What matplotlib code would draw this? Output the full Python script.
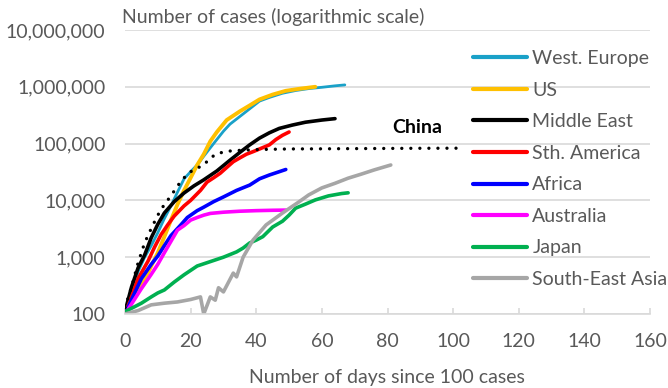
import numpy as np
from matplotlib import pyplot as plt
from matplotlib.ticker import FixedLocator, FuncFormatter

plt.rcParams['font.family'] = ['Lato', 'DejaVu Sans']

# days since 100 cases / cumulative cases
weu_d = [0, 2, 4, 6, 8, 10, 12, 14, 16, 18, 20, 22, 24, 27, 30, 32, 35, 38, 41, 44, 48, 52, 56, 60, 64, 67]
weu_v = [100, 230, 560, 1000, 1600, 2700, 4800, 8000, 14000, 24000, 32000, 42000, 60000, 100000, 165000,
         220000, 300000, 410000, 560000, 650000, 770000, 860000, 930000, 980000, 1040000, 1080000]

us_d = [0, 3, 6, 8, 10, 12, 14, 16, 18, 20, 22, 24, 26, 28, 31, 35, 38, 41, 45, 49, 53, 58]
us_v = [100, 200, 400, 700, 1200, 2300, 4500, 8500, 15000, 25000, 42000, 65000, 110000, 160000, 260000,
        370000, 470000, 600000, 730000, 850000, 920000, 1000000]

me_d = [0, 2, 4, 6, 8, 10, 12, 15, 18, 21, 24, 28, 32, 35, 38, 41, 44, 47, 51, 55, 60, 64]
me_v = [110, 300, 650, 1100, 2200, 3800, 6000, 9500, 13500, 18000, 23000, 33000, 51000, 70000, 95000,
        125000, 155000, 185000, 212000, 238000, 260000, 275000]

sa_d = [0, 2, 4, 7, 9, 11, 13, 15, 18, 20, 23, 25, 27, 29, 31, 33, 35, 37, 39, 42, 44, 46, 48, 50]
sa_v = [100, 200, 420, 850, 1500, 2500, 3700, 5300, 8000, 10000, 15000, 21000, 25000, 30000, 38000,
        48000, 56000, 65000, 72000, 85000, 95000, 118000, 140000, 160000]

af_d = [0, 2, 5, 8, 10, 12, 14, 17, 19, 22, 24, 27, 30, 34, 38, 41, 44, 47, 49]
af_v = [100, 180, 420, 750, 1050, 1600, 2400, 3700, 5000, 6600, 7600, 9500, 11500, 15000, 18600,
        24000, 28000, 32000, 35000]

au_d = [0, 2, 5, 8, 10, 12, 14, 16, 18, 20, 22, 24, 26, 30, 35, 40, 45, 49]
au_v = [100, 150, 280, 500, 750, 1200, 1900, 3000, 3600, 4500, 5000, 5500, 5900, 6200, 6450, 6600, 6700, 6750]

jp_d = [0, 3, 5, 8, 10, 12, 15, 18, 22, 25, 30, 34, 36, 38, 40, 42, 45, 48, 50, 52, 55, 58, 62, 66, 68]
jp_v = [110, 135, 155, 200, 235, 265, 365, 490, 700, 800, 1000, 1240, 1450, 1780, 2000, 2300, 3400,
        4300, 5500, 7300, 8600, 10200, 12000, 13200, 13600]

sea_d = [0, 4, 8, 12, 16, 20, 23, 24, 26, 27.5, 28.5, 30, 33, 34, 36, 39, 43, 48, 53, 56, 60, 64, 68, 72, 76, 81]
sea_v = [100, 115, 145, 155, 163, 180, 200, 100, 200, 175, 290, 245, 525, 450, 1000, 2000, 3700, 6000,
         9400, 12500, 16600, 20000, 24600, 29000, 34500, 42000]

cn_d = [0, 2, 4, 6, 8, 10, 12, 14, 16, 18, 20, 22, 24, 26, 28, 30, 32, 35, 40, 50, 60, 70, 80, 90, 101]
cn_v = [130, 300, 800, 1800, 3200, 5500, 8500, 12000, 18000, 25000, 32000, 37000, 42000, 56000, 66000,
        71000, 74000, 76000, 78500, 80500, 81000, 81600, 82200, 82700, 83000]

series = [
    ('West. Europe', weu_d, weu_v, '#1AA1C8', 2.0),
    ('US', us_d, us_v, '#FFC000', 2.8),
    ('Middle East', me_d, me_v, 'black', 2.6),
    ('Sth. America', sa_d, sa_v, '#FF0000', 2.6),
    ('Africa', af_d, af_v, '#0000FF', 2.6),
    ('Australia', au_d, au_v, '#FF00FF', 2.6),
    ('Japan', jp_d, jp_v, '#00B050', 2.6),
    ('South-East Asia', sea_d, sea_v, '#A6A6A6', 2.6),
]

grey = '#595959'
fs = 14
fig = plt.figure(figsize=(6.68, 3.88), dpi=100)
ax = fig.add_axes([125 / 668, 1 - 314 / 388, 525 / 668, 284 / 388])

for name, d, v, c, lw in series:
    ax.plot(d, v, color=c, lw=lw, label=name, solid_capstyle='round', solid_joinstyle='round')

ax.plot(cn_d, cn_v, color='black', lw=2.4, linestyle=(0, (0.01, 2.7)), dash_capstyle='round')
ax.text(81.5, 1.9e5, 'China', fontsize=fs, fontweight='bold', va='center', ha='left')

ax.set_yscale('log')
ax.set_ylim(100, 1e7)
ax.set_xlim(0, 160)
ax.yaxis.set_major_locator(FixedLocator([1e2, 1e3, 1e4, 1e5, 1e6, 1e7]))
ax.yaxis.set_minor_locator(FixedLocator([]))
ax.yaxis.set_major_formatter(FuncFormatter(lambda y, p: f'{int(round(y)):,}'))
ax.set_xticks(range(0, 161, 20))
ax.grid(axis='y', color='#D9D9D9', lw=1.2)
ax.set_axisbelow(True)
for s in ['top', 'right', 'left']:
    ax.spines[s].set_visible(False)
ax.spines['bottom'].set_color('#D9D9D9')
ax.spines['bottom'].set_linewidth(1.2)
ax.tick_params(axis='y', length=0, pad=14, labelsize=fs, labelcolor=grey)
ax.tick_params(axis='x', direction='in', length=4.5, color='#D9D9D9', width=1.2,
               pad=14, labelsize=fs, labelcolor=grey)

fig.text(122 / 668, 1 - 17 / 388, 'Number of cases (logarithmic scale)', fontsize=fs,
         color=grey, va='center', ha='left')
fig.text(387 / 668, 1 - 378 / 388, 'Number of days since 100 cases', fontsize=fs,
         color=grey, va='center', ha='center')

leg = ax.legend(loc='upper left', bbox_to_anchor=(473 / 668, 1 - 50 / 388), bbox_transform=fig.transFigure,
                frameon=False, fontsize=fs, handlelength=2.8, handletextpad=0.25,
                labelspacing=0.75, borderaxespad=0, borderpad=0)
for t in leg.get_texts():
    t.set_color(grey)
for h in leg.get_lines():
    h.set_linewidth(3)

fig.savefig('out.png', dpi=100)
